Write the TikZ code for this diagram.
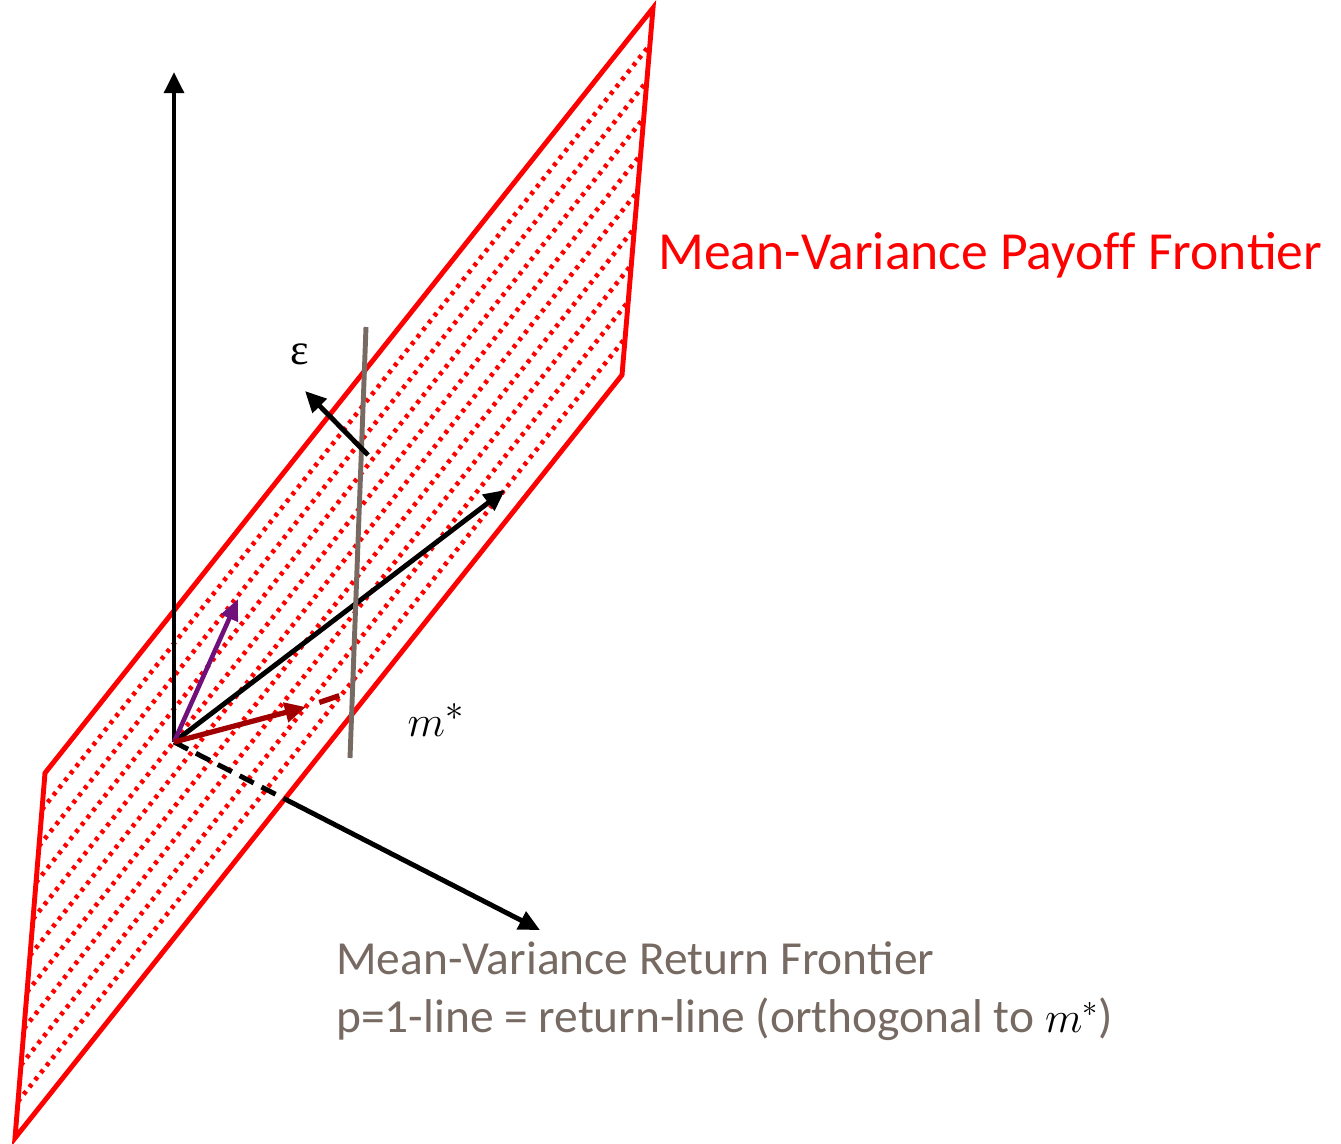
\documentclass[tikz,border=0pt]{standalone}
\usepackage{fontspec}
\setmainfont{Carlito}
\newfontfamily\greekfont{Liberation Serif}
\usepackage{tikz}
\usetikzlibrary{arrows.meta, calc}
\definecolor{myred}{RGB}{255,0,0}
\definecolor{mydark}{RGB}{0,0,0}
\definecolor{mywine}{RGB}{160,0,0}
\definecolor{mypurple}{RGB}{112,16,122}
\definecolor{mytaupe}{RGB}{118,106,98}
\tikzset{
  plane/.style={draw=myred, line width=2.8pt, line join=miter},
  hatch/.style={draw=myred, line width=2.6pt, dash pattern=on 2.2pt off 3pt},
  axis/.style={-{Triangle[length=12pt, width=11pt]}, line width=2.8pt, color=mydark},
  hidden/.style={line width=2.8pt, color=mydark, dash pattern=on 9pt off 5pt},
  label/.style={inner sep=0pt, font=\fontsize{27}{33}\selectfont}
}

\begin{document}
\begin{tikzpicture}[x=0.02cm, y=-0.02cm]
  \useasboundingbox (0,0) rectangle (1341,1143);

  % corners of the payoff plane
  \coordinate (P1) at (45,773);
  \coordinate (P2) at (653,8);
  \coordinate (P3) at (622,375);
  \coordinate (P4) at (15,1138);

  % hatching of the plane
  \foreach \t in {0.1,0.2,...,0.9}
    \draw[hatch] ($(P1)!\t!(P4)$) -- ($(P2)!\t!(P3)$);
  \draw[plane] (P1) -- (P2) -- (P3) -- (P4) -- cycle;

  % origin and axes
  \coordinate (O) at (174,742);
  \coordinate (up) at (174,72);
  \coordinate (fwd) at (505,490);
  \coordinate (down) at (540,930);
  \coordinate (cross) at (intersection of O--down and P4--P3);
  \draw[axis] (O) -- (up);
  \draw[axis] (O) -- (fwd);
  \draw[hidden] (O) -- (cross);
  \draw[axis] (cross) -- (down);

  % payoff vectors
  \coordinate (pv) at (238,599);
  \coordinate (mv) at (306,707);
  \coordinate (mend) at (344,694);
  \draw[-{Triangle[length=12pt, width=10pt]}, line width=2.6pt, color=mypurple] (O) -- (pv);
  \draw[-{Triangle[length=12pt, width=11pt]}, line width=3pt, color=mywine] (O) -- (mv);
  \draw[line width=3pt, color=mywine, dash pattern=on 0pt off 8pt on 12pt off 20pt] (mv) -- (mend);

  % return line and residual
  \coordinate (rtop) at (366,327);
  \coordinate (rbot) at (350,758);
  \draw[line width=2.8pt, color=mytaupe] (rtop) -- (rbot);
  \coordinate (etail) at (368,455);
  \coordinate (ehead) at (305,391);
  \draw[axis] (etail) -- (ehead);

  % labels
  \node[label] (eps) at (300,354) {\greekfont\fontsize{25}{30}\selectfont ε};
  \node[label, font=\fontsize{31}{36}\selectfont] (mstar) at (436,720) {$m^*$};
  \node[label, text=myred, anchor=base west, font=\fontsize{30.5}{36}\selectfont]
    (payoff) at (658,269) {Mean-Variance Payof\kern0pt f Fron\kern0pt tier};
  \node[label, text=mytaupe, anchor=base west] (rettitle) at (336,974)
    {Mean-Variance Return Fron\kern0pt tier};
  \node[label, text=mytaupe, anchor=base west] (retline) at (336,1032)
    {p=1-line = return-line (orthogonal to \textcolor{black}{$m^*$})};
\end{tikzpicture}
\end{document}
